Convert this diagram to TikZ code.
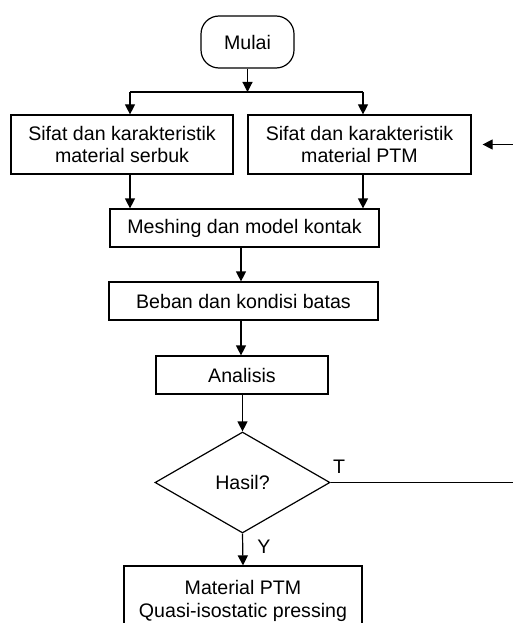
\documentclass[tikz,border=0pt]{standalone}
\usepackage{fontspec}
\setmainfont{Liberation Sans}
\usetikzlibrary{arrows.meta,shapes.geometric}
\begin{document}
\begin{tikzpicture}[x=1pt,y=-1pt,
 box/.style={draw,line width=1.2pt,inner sep=0pt,align=center,font=\fontsize{19.6}{22.5}\selectfont},
 arr/.style={line width=1.2pt,-{Triangle[length=10pt,width=10pt]}},
 ln/.style={line width=1.2pt},
 lbl/.style={font=\fontsize{19.6}{22.5}\selectfont,inner sep=0pt}]
\fill[white] (0,0) rectangle (513,623);
\useasboundingbox (0,0) rectangle (513,623);
\clip (0,0) rectangle (513,623);
\node[box,rounded corners=18pt,minimum width=93pt,minimum height=52pt] (start) at (247.5,42) {Mulai};
\node[box,minimum width=222pt,minimum height=59pt] (a) at (122,144.5) {Sifat dan karakteristik\\material serbuk};
\node[box,minimum width=223pt,minimum height=59pt] (b) at (359.5,144.5) {Sifat dan karakteristik\\material PTM};
\node[box,minimum width=269pt,minimum height=38pt] (mesh) at (244.5,228) {Meshing dan model kontak};
\node[box,minimum width=269pt,minimum height=38pt] (beban) at (243.5,301) {Beban dan kondisi batas};
\node[box,minimum width=172pt,minimum height=38pt] (anal) at (242,375) {Analisis};
\node[box,diamond,aspect=1.73,minimum width=175pt,minimum height=101pt] (dia) at (242.5,482.5) {Hasil?};
\node[box,minimum width=238pt,minimum height=70pt] (fin) at (243,601) {Material PTM\\Quasi-isostatic pressing};
\node[lbl] (t) at (339,467) {T};
\node[lbl] (y) at (264,547) {Y};
\coordinate (j) at (247.5,92);
\coordinate (ja) at (130,92);
\coordinate (jb) at (363,92);
\coordinate (c1) at (241,0);
\coordinate (r1) at (530,482.5);
\draw[arr] (start) -- (j);
\draw[ln] (ja) -- (jb);
\draw[arr] (ja) -- (ja |- a.north);
\draw[arr] (jb) -- (jb |- b.north);
\draw[arr] (ja |- a.south) -- (ja |- mesh.north);
\draw[arr] (jb |- b.south) -- (jb |- mesh.north);
\draw[arr] (c1 |- mesh.south) -- (c1 |- beban.north);
\draw[arr] (c1 |- beban.south) -- (c1 |- anal.north);
\draw[arr] (anal.south -| dia.north) -- (dia.north);
\draw[arr] (dia.south) -- (fin.north);
\draw[arr,shorten >=11pt] (dia.east) -- (r1) |- (b.east);
\end{tikzpicture}
\end{document}
